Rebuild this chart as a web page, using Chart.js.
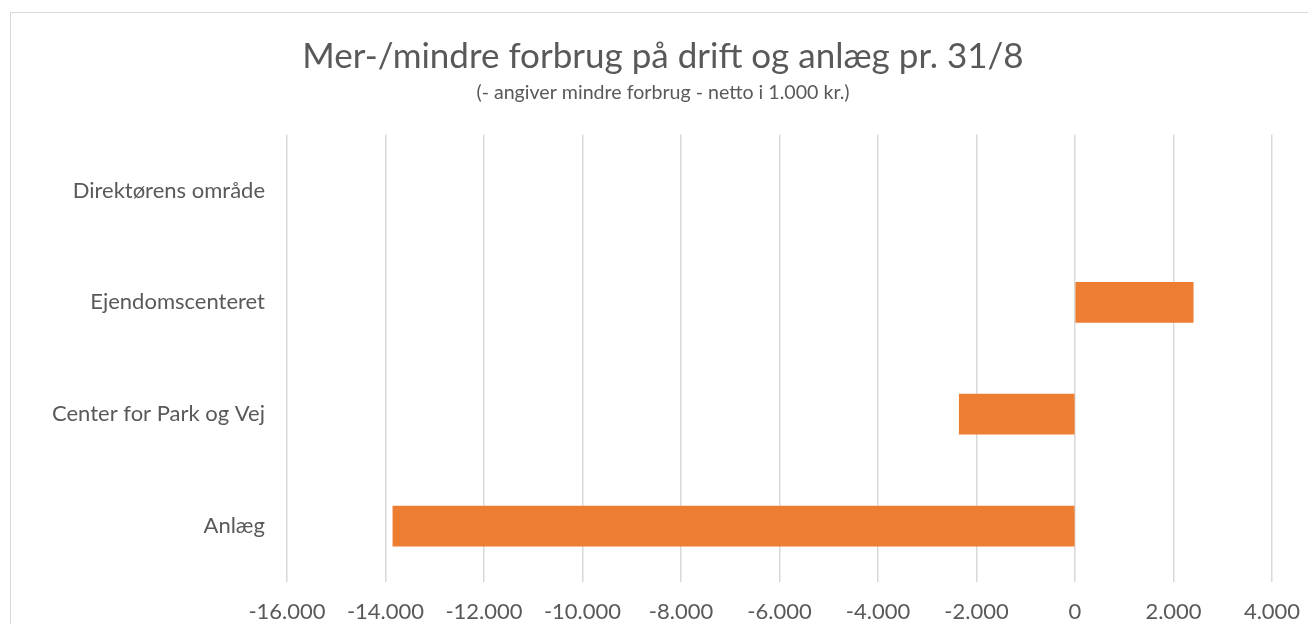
<!DOCTYPE html>
<html>
<head>
<meta charset="utf-8">
<script src="https://cdn.jsdelivr.net/npm/chart.js@4"></script>
<style>
  body { margin: 0; overflow: hidden; background: #fff; }
  #frame { position: absolute; left: 10px; top: 12px; width: 1400px; height: 700px; border: 1px solid #d9d9d9; }
  #chart { position: absolute; left: 0; top: 0; }
</style>
</head>
<body>
<div id="frame"></div>
<canvas id="chart" width="1308" height="624"></canvas>
<script>
const categories = ['Direktørens område', 'Ejendomscenteret', 'Center for Park og Vej', 'Anlæg'];
const values = [null, 2400, -2350, -13850];
const xMin = -16000;
const xMax = 4000;
const xStep = 2000;

const titleText = 'Mer-/mindre forbrug på drift og anlæg pr. 31/8';
const subtitleText = '(- angiver mindre forbrug - netto i 1.000 kr.)';

function formatDk(v) {
    const sign = v < 0 ? '-' : '';
    return sign + String(Math.abs(v)).replace(/\B(?=(\d{3})+(?!\d))/g, '.');
}

const fontFam = 'Lato, "Open Sans", sans-serif';
const textColor = '#595959';

new Chart(document.getElementById('chart'), {
    type: 'bar',
    data: {
        labels: categories,
        datasets: [{
            data: values,
            backgroundColor: '#ed7d31',
            borderWidth: 0,
            barThickness: 40
        }]
    },
    options: {
        indexAxis: 'y',
        responsive: false,
        animation: false,
        layout: { padding: { left: 18, right: 0, top: 0, bottom: 0 } },
        plugins: {
            legend: { display: false },
            tooltip: { enabled: false },
            title: {
                display: true,
                text: titleText,
                color: textColor,
                font: { family: fontFam, size: 35, weight: 'normal' },
                padding: { top: 36, bottom: 2 }
            },
            subtitle: {
                display: true,
                text: subtitleText,
                color: textColor,
                font: { family: fontFam, size: 19.6, weight: 'normal' },
                padding: { top: 1, bottom: 30 }
            }
        },
        scales: {
            x: {
                min: xMin,
                max: xMax,
                ticks: {
                    stepSize: xStep,
                    color: textColor,
                    font: { family: fontFam, size: 22 },
                    padding: 17,
                    callback: (v) => formatDk(v)
                },
                grid: { color: '#d9d9d9', lineWidth: 1.5, drawTicks: false },
                border: { display: false },
                afterFit: (scale) => {
                    scale.height = 42;
                    scale.paddingLeft = 0;
                    scale.paddingRight = 36;
                }
            },
            y: {
                ticks: {
                    color: textColor,
                    font: { family: fontFam, size: 22 },
                    padding: 22
                },
                grid: { display: false, drawTicks: false },
                border: { display: false },
                afterFit: (scale) => { scale.width = 269; }
            }
        }
    }
});
</script>
</body>
</html>
